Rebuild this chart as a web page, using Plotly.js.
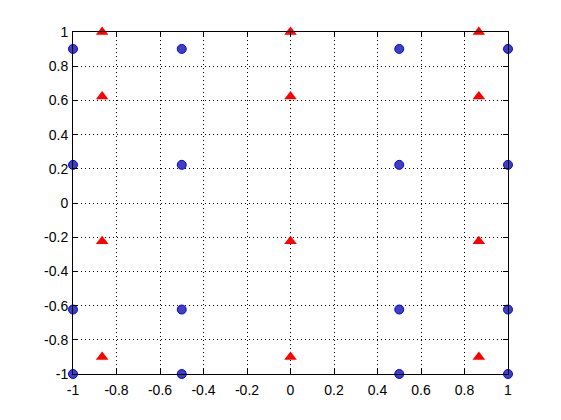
<!DOCTYPE html>
<html>
<head>
<meta charset="utf-8">
<script src="https://cdn.plot.ly/plotly-3.0.1.min.js"></script>
<style>html,body{margin:0;padding:0;background:#fff;}#chart{width:561px;height:420px;}</style>
</head>
<body>
<div id="chart"></div>
<script>
// Blue circles: columns x and row levels y
var circleX = [-1, -0.5, 0.5, 1];
var circleY = [0.901, 0.223, -0.623, -1];
// Red triangles
var triX = [-0.866, 0, 0.866];
var triY = [1, 0.623, -0.223, -0.901];
var xTicks = [-1, -0.8, -0.6, -0.4, -0.2, 0, 0.2, 0.4, 0.6, 0.8, 1];
var yTicks = [-1, -0.8, -0.6, -0.4, -0.2, 0, 0.2, 0.4, 0.6, 0.8, 1];
var xTickText = ["-1", "-0.8", "-0.6", "-0.4", "-0.2", "0", "0.2", "0.4", "0.6", "0.8", "1"];
var yTickText = ["-1", "-0.8", "-0.6", "-0.4", "-0.2", "0", "0.2", "0.4", "0.6", "0.8", "1"];

var cx = [], cy = [], tx = [], ty = [];
circleX.forEach(function(x){ circleY.forEach(function(y){ cx.push(x); cy.push(y); }); });
triX.forEach(function(x){ triY.forEach(function(y){ tx.push(x); ty.push(y); }); });

var traces = [
  {x: cx, y: cy, type: 'scatter', mode: 'markers', cliponaxis: false,
   marker: {symbol: 'circle', size: 9, color: '#4040b8', line: {color: '#0000ff', width: 1}}},
  {x: tx, y: ty, type: 'scatter', mode: 'markers', cliponaxis: false,
   marker: {symbol: 'triangle-up', size: 11, color: '#ff0000', line: {color: '#ff0000', width: 0}}}
];

var axisCommon = {
  showline: true, linecolor: '#000', linewidth: 1, mirror: 'allticks',
  ticks: 'inside', ticklen: 5, tickcolor: '#000', tickwidth: 1,
  showgrid: true, gridcolor: '#000', gridwidth: 1, griddash: '1px,3px',
  zeroline: false, tickfont: {family: 'Liberation Sans, Arial, sans-serif', size: 14, color: '#000'},
  tickmode: 'array', range: [-1, 1], fixedrange: true
};
var layout = {
  width: 561, height: 420,
  margin: {l: 73, r: 53, t: 32, b: 46},
  paper_bgcolor: '#fff', plot_bgcolor: '#fff',
  showlegend: false,
  xaxis: Object.assign({}, axisCommon, {tickvals: xTicks, ticktext: xTickText, ticklabelstandoff: 3}),
  yaxis: Object.assign({}, axisCommon, {tickvals: yTicks, ticktext: yTickText, ticklabelstandoff: 1})
};
Plotly.newPlot('chart', traces, layout, {displayModeBar: false, staticPlot: true});
</script>
</body>
</html>
